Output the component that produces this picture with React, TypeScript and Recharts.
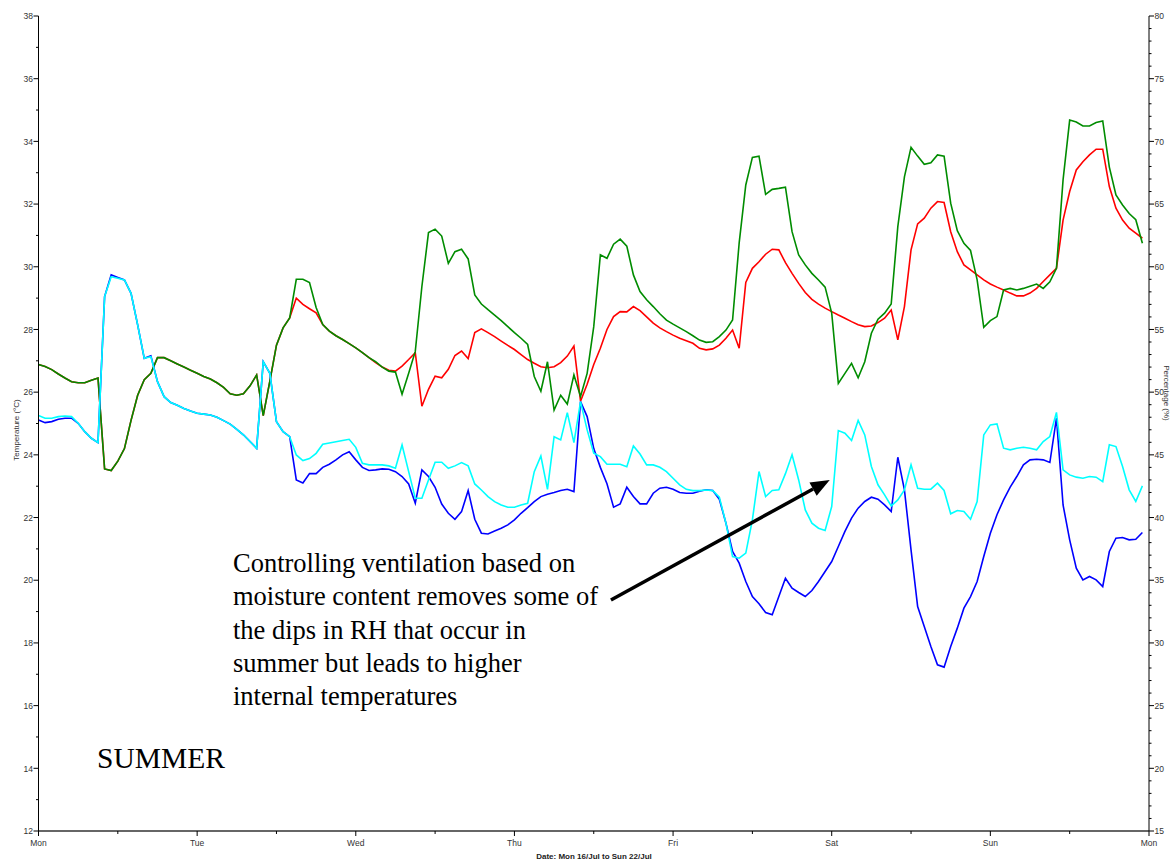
import { Line, LineChart, ReferenceLine, XAxis, YAxis } from "recharts";

// hourly samples, Mon 16/Jul 00:00 .. Sun 22/Jul 23:00
const hours = Array.from({ length: 168 }, (_, i) => i);
const dayLabels = ["Mon", "Tue", "Wed", "Thu", "Fri", "Sat", "Sun", "Mon"];
const hourTicks = [0, 12, 24, 36, 48, 60, 72, 84, 96, 108, 120, 132, 144, 156, 168];
const tempTicks = Array.from({ length: 27 }, (_, i) => 12 + i);
const rhTicks = Array.from({ length: 66 }, (_, i) => 15 + i);

// temperature (°C), ventilation controlled on moisture content (green)
const tempMoistureCtrl = [
  26.88, 26.82, 26.72, 26.58, 26.45, 26.33, 26.3, 26.3, 26.38, 26.45,
  23.55, 23.5, 23.8, 24.2, 25.1, 25.9, 26.4, 26.6, 27.1, 27.1,
  27.0, 26.9, 26.8, 26.7, 26.6, 26.5, 26.42, 26.3, 26.15, 25.95,
  25.9, 25.95, 26.2, 26.55, 25.25, 26.35, 27.5, 28.05, 28.37, 29.6,
  29.6, 29.5, 28.7, 28.16, 27.95, 27.8, 27.68, 27.55, 27.41, 27.26,
  27.1, 26.97, 26.8, 26.67, 26.64, 25.93, 26.6, 27.3, 29.37, 31.09,
  31.2, 30.98, 30.11, 30.48, 30.56, 30.25, 29.1, 28.81, 28.63, 28.46,
  28.28, 28.09, 27.9, 27.72, 27.52, 26.5, 26.03, 26.97, 25.43, 25.9,
  25.62, 26.55, 25.86, 26.6, 28.09, 30.38, 30.27, 30.72, 30.88, 30.66,
  29.74, 29.21, 28.95, 28.73, 28.5, 28.3, 28.17, 28.05, 27.93, 27.8,
  27.66, 27.59, 27.61, 27.77, 27.98, 28.3, 30.76, 32.61, 33.49, 33.53,
  32.31, 32.47, 32.5, 32.54, 31.12, 30.38, 30.06, 29.79, 29.58, 29.35,
  28.52, 26.28, 26.6, 26.92, 26.46, 26.97, 27.88, 28.33, 28.52, 28.81,
  31.28, 32.87, 33.81, 33.53, 33.27, 33.32, 33.57, 33.53, 32.03, 31.15,
  30.75, 30.52, 29.58, 28.07, 28.28, 28.41, 29.26, 29.31, 29.26, 29.31,
  29.38, 29.45, 29.31, 29.52, 29.95, 32.77, 34.68, 34.62, 34.49, 34.49,
  34.6, 34.65, 33.18, 32.29, 31.97, 31.7, 31.5, 30.75,
];

// temperature (°C), standard ventilation (red)
const tempStandard = [
  26.88, 26.82, 26.72, 26.58, 26.45, 26.33, 26.3, 26.3, 26.38, 26.45,
  23.55, 23.5, 23.8, 24.2, 25.1, 25.9, 26.4, 26.6, 27.1, 27.1,
  27.0, 26.9, 26.8, 26.7, 26.6, 26.5, 26.42, 26.3, 26.15, 25.95,
  25.9, 25.95, 26.2, 26.55, 25.25, 26.35, 27.5, 28.05, 28.37, 29.0,
  28.8, 28.66, 28.53, 28.16, 27.95, 27.8, 27.68, 27.55, 27.41, 27.26,
  27.1, 26.94, 26.8, 26.7, 26.67, 26.83, 27.04, 27.26, 25.55, 26.09,
  26.51, 26.46, 26.73, 27.17, 27.31, 27.07, 27.9, 28.02, 27.9, 27.77,
  27.63, 27.49, 27.36, 27.2, 27.04, 26.92, 26.81, 26.78, 26.81, 26.94,
  27.15, 27.47, 25.71, 26.25, 26.88, 27.4, 28.0, 28.41, 28.57, 28.56,
  28.73, 28.6, 28.4, 28.2, 28.05, 27.93, 27.82, 27.72, 27.64, 27.56,
  27.4, 27.35, 27.38, 27.5, 27.72, 27.98, 27.4, 29.5, 29.95, 30.16,
  30.4, 30.56, 30.54, 30.13, 29.79, 29.47, 29.18, 28.96, 28.81, 28.68,
  28.57, 28.46, 28.36, 28.25, 28.15, 28.09, 28.11, 28.22, 28.36, 28.62,
  27.67, 28.73, 30.54, 31.37, 31.55, 31.87, 32.08, 32.05, 31.12, 30.48,
  30.06, 29.9, 29.74, 29.58, 29.45, 29.35, 29.26, 29.16, 29.07, 29.07,
  29.16, 29.31, 29.53, 29.74, 29.95, 31.49, 32.4, 33.09, 33.35, 33.57,
  33.75, 33.75, 32.56, 31.87, 31.49, 31.23, 31.07, 30.91,
];

// relative humidity (%), ventilation controlled on moisture content (cyan)
const rhMoistureCtrl = [
  48.13, 47.92, 47.92, 48.05, 48.1, 48.05, 47.52, 46.85, 46.32, 45.98,
  57.62, 59.21, 59.08, 58.95, 57.88, 55.36, 52.7, 52.83, 50.84, 49.64,
  49.17, 48.95, 48.7, 48.5, 48.32, 48.25, 48.18, 48.0, 47.73, 47.45,
  47.04, 46.6, 46.06, 45.52, 52.43, 51.5, 47.65, 46.85, 46.45, 44.99,
  44.54, 44.7, 45.12, 45.84, 45.95, 46.05, 46.15, 46.24, 45.6, 44.33,
  44.2, 44.2, 44.2, 44.12, 43.93, 45.79, 43.66, 41.54, 41.54, 43.0,
  44.41, 44.41, 43.93, 44.12, 44.38, 44.12, 42.68, 42.2, 41.67, 41.27,
  41.0, 40.82, 40.82, 41.0, 41.14, 43.66, 44.91, 42.25, 46.45, 46.19,
  48.37, 45.98, 49.25, 46.99, 45.13, 44.86, 44.25, 44.25, 44.25, 44.06,
  45.71, 45.07, 44.2, 44.2, 44.01, 43.66, 43.13, 42.6, 42.25, 42.15,
  42.15, 42.2, 42.15, 41.62, 39.55, 36.89, 36.76, 37.16, 39.82, 43.67,
  41.68, 42.16, 42.21, 43.5, 45.0, 43.0, 40.61, 39.55, 39.15, 38.97,
  40.88, 46.94, 46.73, 46.14, 47.74, 46.59, 44.07, 42.61, 41.81, 40.93,
  41.41, 42.21, 44.2, 42.34, 42.26, 42.26, 42.74, 42.16, 40.3, 40.56,
  40.48, 39.87, 41.28, 46.59, 47.39, 47.47, 45.53, 45.4, 45.53, 45.6,
  45.53, 45.4, 46.06, 46.46, 48.38, 43.8, 43.4, 43.22, 43.14, 43.27,
  43.22, 42.87, 45.8, 45.66, 44.07, 42.21, 41.28, 42.53,
];

// relative humidity (%), standard ventilation (blue)
const rhStandard = [
  47.78, 47.57, 47.65, 47.84, 47.92, 47.92, 47.52, 46.85, 46.32, 45.98,
  57.62, 59.35, 59.15, 58.95, 57.88, 55.36, 52.7, 52.9, 50.84, 49.64,
  49.17, 48.95, 48.7, 48.5, 48.32, 48.25, 48.18, 48.0, 47.73, 47.45,
  47.04, 46.6, 46.06, 45.52, 52.43, 51.5, 47.65, 46.85, 46.45, 43.0,
  42.75, 43.5, 43.5, 44.0, 44.25, 44.6, 45.0, 45.25, 44.6, 44.0,
  43.75, 43.8, 43.88, 43.85, 43.66, 43.27, 42.68, 41.14, 43.8, 43.27,
  42.41, 41.08, 40.34, 39.86, 40.47, 42.15, 39.86, 38.75, 38.69, 38.93,
  39.14, 39.41, 39.81, 40.34, 40.79, 41.27, 41.67, 41.86, 41.99, 42.15,
  42.25, 42.07, 49.25, 48.05, 45.5, 44.0, 42.7, 40.83, 41.09, 42.42,
  41.68, 41.09, 41.09, 41.94, 42.34, 42.42, 42.26, 41.99, 41.94, 41.94,
  42.1, 42.21, 42.16, 41.46, 39.55, 37.29, 36.36, 34.9, 33.7, 33.12,
  32.43, 32.24, 33.7, 35.16, 34.37, 34.02, 33.7, 34.18, 34.9, 35.7,
  36.49, 37.69, 38.89, 39.95, 40.75, 41.28, 41.62, 41.46, 41.01, 40.48,
  44.81, 42.21, 37.42, 32.9, 31.31, 29.72, 28.25, 28.07, 29.72, 31.18,
  32.77, 33.7, 34.9, 36.89, 38.75, 40.22, 41.41, 42.42, 43.27, 44.2,
  44.6, 44.65, 44.6, 44.39, 47.92, 41.0, 38.22, 35.96, 35.03, 35.3,
  35.03, 34.5, 37.29, 38.35, 38.41, 38.22, 38.27, 38.81,
];

const annotationLines = [
  "Controlling ventilation based on",
  "moisture content removes some of",
  "the dips in RH that occur in",
  "summer but leads to higher",
  "internal temperatures",
];

const rows = hours.map((hour, i) => ({
  hour,
  tempMoisture: tempMoistureCtrl[i],
  tempStandard: tempStandard[i],
  rhMoisture: rhMoistureCtrl[i],
  rhStandard: rhStandard[i],
}));

// arrow from the note to the RH curves (hour, °C)
const arrowTail = { hour: 86.6, temp: 19.37 };
const arrowTip = { hour: 119.7, temp: 23.2 };

const tickFont = "'Liberation Sans', Arial, sans-serif";
const serifFont = "'Liberation Serif', 'Times New Roman', serif";

function TempTick({ x, y, payload }: any) {
  const major = payload.value % 2 === 0;
  return (
    <g>
      <line x1={x - (major ? 5 : 2.5)} y1={y} x2={x} y2={y} stroke="#000" />
      {major && (
        <text x={x - 5.5} y={y} dy="0.38em" textAnchor="end" fontSize={8.5} fontFamily={tickFont} fill="#333">
          {payload.value}
        </text>
      )}
    </g>
  );
}

function RhTick({ x, y, payload }: any) {
  const major = payload.value % 5 === 0;
  return (
    <g>
      <line x1={x} y1={y} x2={x + (major ? 5 : 2.5)} y2={y} stroke="#000" />
      {major && (
        <text x={x + 5.5} y={y} dy="0.38em" textAnchor="start" fontSize={8.5} fontFamily={tickFont} fill="#333">
          {payload.value}
        </text>
      )}
    </g>
  );
}

function HourTick({ x, y, payload }: any) {
  const day = payload.value % 24 === 0;
  return (
    <g>
      <line x1={x} y1={y} x2={x} y2={y + (day ? 5 : 3)} stroke="#000" />
      {day && (
        <text x={x} y={y + 14.5} textAnchor="middle" fontSize={8.5} fontFamily={tickFont} fill="#333">
          {dayLabels[payload.value / 24]}
        </text>
      )}
    </g>
  );
}

function Arrow({ x1, y1, x2, y2 }: any) {
  const ang = Math.atan2(y2 - y1, x2 - x1);
  const len = 19;
  const half = 7.5;
  const bx = x2 - len * Math.cos(ang);
  const by = y2 - len * Math.sin(ang);
  const px = -Math.sin(ang) * half;
  const py = Math.cos(ang) * half;
  return (
    <g>
      <line x1={x1} y1={y1} x2={bx} y2={by} stroke="#000" strokeWidth={3.5} />
      <polygon points={`${x2},${y2} ${bx + px},${by + py} ${bx - px},${by - py}`} fill="#000" />
    </g>
  );
}

export default function App() {
  return (
    <div style={{ position: "relative", width: 1174, height: 861, background: "#fff" }}>
      <style>{`body { margin: 0; }`}</style>
      <LineChart width={1174} height={861} data={rows} margin={{ top: 16, right: 0, bottom: 0, left: 0 }}>
        <XAxis
          dataKey="hour"
          type="number"
          domain={[0, 168]}
          ticks={hourTicks}
          interval={0}
          height={30}
          tickSize={0}
          tickMargin={0}
          tickLine={false}
          axisLine={{ stroke: "#666", strokeWidth: 2 }}
          tick={HourTick}
        />
        <YAxis
          yAxisId="t"
          domain={[12, 38]}
          ticks={tempTicks}
          interval={0}
          width={38.5}
          tickSize={0}
          tickMargin={0}
          tickLine={false}
          axisLine={{ stroke: "#000" }}
          tick={TempTick}
        />
        <YAxis
          yAxisId="rh"
          orientation="right"
          domain={[15, 80]}
          ticks={rhTicks}
          interval={0}
          width={25}
          tickSize={0}
          tickMargin={0}
          tickLine={false}
          axisLine={{ stroke: "#000" }}
          tick={RhTick}
        />
        <Line yAxisId="t" dataKey="tempStandard" stroke="#ff0000" strokeWidth={1.6} dot={false} activeDot={false} isAnimationActive={false} />
        <Line yAxisId="t" dataKey="tempMoisture" stroke="#008c00" strokeWidth={1.6} dot={false} activeDot={false} isAnimationActive={false} />
        <Line yAxisId="rh" dataKey="rhStandard" stroke="#0000ff" strokeWidth={1.6} dot={false} activeDot={false} isAnimationActive={false} />
        <Line yAxisId="rh" dataKey="rhMoisture" stroke="#00ffff" strokeWidth={1.6} dot={false} activeDot={false} isAnimationActive={false} />
        <ReferenceLine
          yAxisId="t"
          segment={[
            { x: arrowTail.hour, y: arrowTail.temp },
            { x: arrowTip.hour, y: arrowTip.temp },
          ]}
          ifOverflow="visible"
          shape={Arrow}
        />
      </LineChart>

      <div
        style={{
          position: "absolute",
          left: 16,
          top: 430,
          transform: "translate(-50%, -50%) rotate(-90deg)",
          fontFamily: tickFont,
          fontSize: 8,
          color: "#333",
          whiteSpace: "nowrap",
        }}
      >
        Temperature (°C)
      </div>
      <div
        style={{
          position: "absolute",
          left: 1166,
          top: 393,
          transform: "translate(-50%, -50%) rotate(90deg)",
          fontFamily: tickFont,
          fontSize: 8,
          color: "#333",
          whiteSpace: "nowrap",
        }}
      >
        Percentage (%)
      </div>
      <div
        style={{
          position: "absolute",
          left: 594,
          top: 856,
          transform: "translate(-50%, -50%)",
          fontFamily: tickFont,
          fontSize: 8,
          fontWeight: "bold",
          color: "#222",
          whiteSpace: "nowrap",
        }}
      >
        Date: Mon 16/Jul to Sun 22/Jul
      </div>

      <div
        style={{
          position: "absolute",
          left: 233,
          top: 547,
          fontFamily: serifFont,
          fontSize: 26.5,
          lineHeight: "33.3px",
          color: "#000",
          whiteSpace: "nowrap",
        }}
      >
        {annotationLines.map((line) => (
          <div key={line}>{line}</div>
        ))}
      </div>
      <div
        style={{
          position: "absolute",
          left: 97,
          top: 744,
          fontFamily: serifFont,
          fontSize: 29.5,
          lineHeight: "29.5px",
          color: "#000",
          whiteSpace: "nowrap",
        }}
      >
        SUMMER
      </div>
    </div>
  );
}
